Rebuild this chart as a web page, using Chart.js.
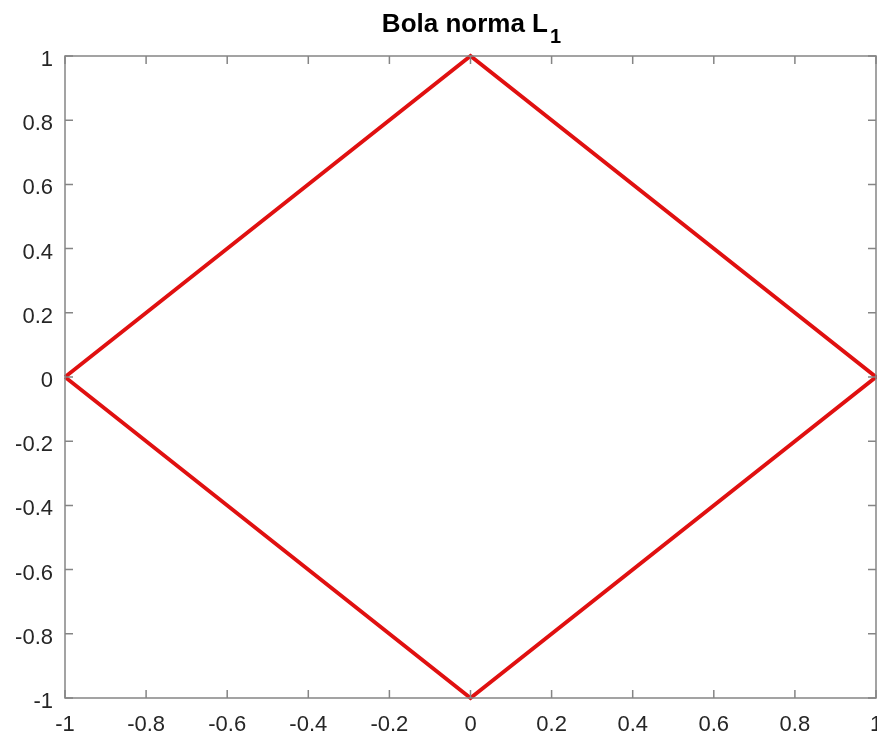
<!DOCTYPE html>
<html>
<head>
<meta charset="utf-8">
<script src="https://cdn.jsdelivr.net/npm/chart.js@4/dist/chart.umd.min.js"></script>
<style>
  body { margin: 0; background: #fff; }
  #wrap { width: 877px; height: 737px; }
</style>
</head>
<body>
<div id="wrap"><canvas id="myChart" width="877" height="737"></canvas></div>
<script>
// data: vertices of the L1 unit ball
const xValues = [-1, 0, 1, 0, -1];
const yValues = [0, 1, 0, -1, 0];
const tickValues = [-1, -0.8, -0.6, -0.4, -0.2, 0, 0.2, 0.4, 0.6, 0.8, 1];
const titleText = "Bola norma L";
const titleSub = "1";

const axisColor = "#858585";
const textColor = "#262626";
const fontFamily = "'Liberation Sans', Arial, sans-serif";

const points = xValues.map((x, i) => ({ x: x, y: yValues[i] }));

const fmt = v => String(parseFloat(Number(v).toFixed(1)));

// box around plot area, inward ticks, title with subscript
const matlabAxes = {
    id: 'matlabAxes',
    afterDraw(chart) {
        const ctx = chart.ctx;
        const a = chart.chartArea;
        const xs = chart.scales.x;
        const ys = chart.scales.y;
        const len = 8;
        ctx.save();
        ctx.strokeStyle = axisColor;
        ctx.lineWidth = 1.5;
        ctx.strokeRect(a.left, a.top, a.right - a.left, a.bottom - a.top);
        ctx.beginPath();
        tickValues.forEach(v => {
            const px = xs.getPixelForValue(v);
            ctx.moveTo(px, a.bottom); ctx.lineTo(px, a.bottom - len);
            ctx.moveTo(px, a.top); ctx.lineTo(px, a.top + len);
            const py = ys.getPixelForValue(v);
            ctx.moveTo(a.left, py); ctx.lineTo(a.left + len, py);
            ctx.moveTo(a.right, py); ctx.lineTo(a.right - len, py);
        });
        ctx.stroke();

        // title
        ctx.fillStyle = "#000";
        ctx.font = "bold 26px " + fontFamily;
        const mainW = ctx.measureText(titleText).width;
        ctx.font = "bold 20px " + fontFamily;
        const subW = ctx.measureText(titleSub).width;
        const cx = (a.left + a.right) / 2;
        const startX = cx - (mainW + subW) / 2;
        ctx.textBaseline = "alphabetic";
        ctx.textAlign = "left";
        ctx.font = "bold 26px " + fontFamily;
        ctx.fillText(titleText, startX, 32);
        ctx.font = "bold 20px " + fontFamily;
        ctx.fillText(titleSub, startX + mainW + 2, 43);
        ctx.restore();
    }
};

const ctx = document.getElementById("myChart");
new Chart(ctx, {
    type: 'scatter',
    data: {
        datasets: [{
            data: points,
            showLine: true,
            borderColor: "#e01010",
            borderWidth: 3.8,
            pointRadius: 0,
            fill: false,
            tension: 0,
            clip: 4
        }]
    },
    options: {
        responsive: false,
        animation: false,
        layout: { padding: { top: 56, right: 1, left: 0, bottom: 0 } },
        plugins: {
            legend: { display: false },
            title: { display: false },
            tooltip: { enabled: false }
        },
        scales: {
            x: {
                type: 'linear',
                min: -1, max: 1,
                afterFit: s => { s.height = 39; s.paddingLeft = 0; s.paddingRight = 0; },
                afterBuildTicks: s => { s.ticks = tickValues.map(v => ({ value: v })); },
                grid: { display: false },
                border: { display: false },
                ticks: {
                    padding: 6,
                    color: textColor,
                    font: { family: fontFamily, size: 22 },
                    maxRotation: 0,
                    autoSkip: false,
                    callback: v => fmt(v)
                }
            },
            y: {
                type: 'linear',
                min: -1, max: 1,
                afterFit: s => { s.width = 65; s.paddingTop = 0; s.paddingBottom = 0; },
                afterBuildTicks: s => { s.ticks = tickValues.map(v => ({ value: v })); },
                grid: { display: false },
                border: { display: false },
                ticks: {
                    padding: 4,
                    labelOffset: 4,
                    color: textColor,
                    font: { family: fontFamily, size: 22 },
                    autoSkip: false,
                    callback: v => fmt(v)
                }
            }
        }
    },
    plugins: [matlabAxes]
});
</script>
</body>
</html>
